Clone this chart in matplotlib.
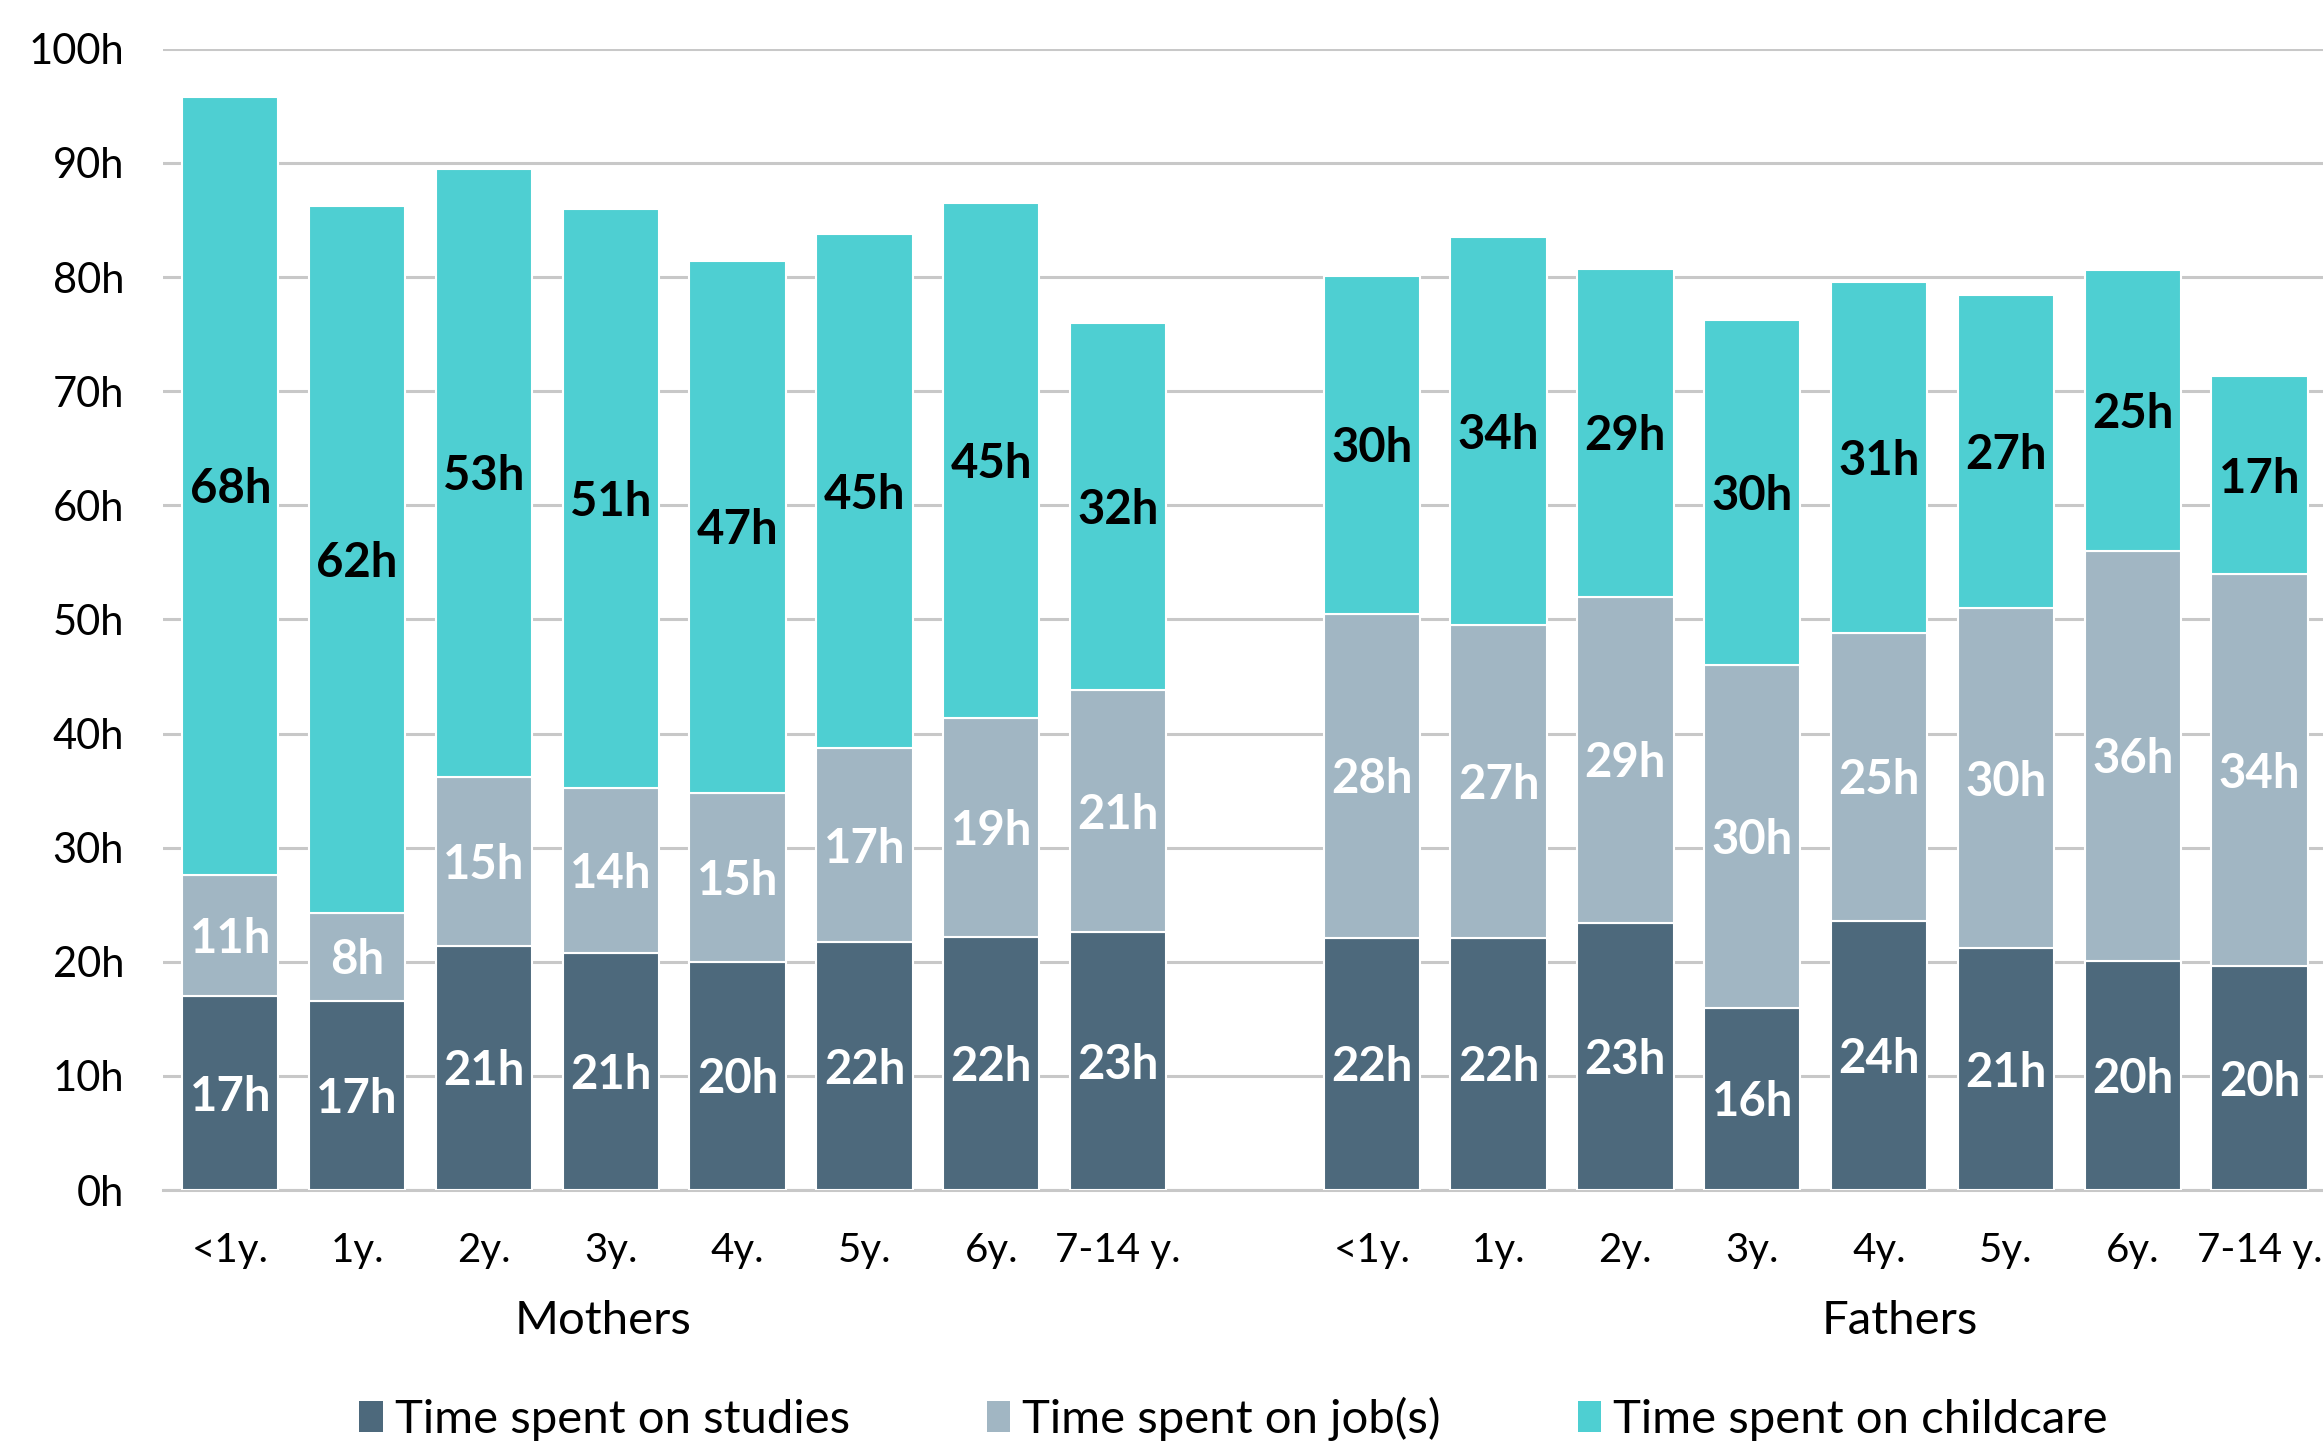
import matplotlib
matplotlib.use("Agg")
import matplotlib.pyplot as plt
from matplotlib.patches import Patch
import numpy as np

plt.rcParams['font.family'] = ['Lato', 'DejaVu Sans']

# Age of youngest child, per parent group
age_labels = ["<1y.", "1y.", "2y.", "3y.", "4y.", "5y.", "6y.", "7-14 y."]
groups = ["Mothers", "Fathers"]

# Weekly hours (mothers first, then fathers)
mothers_studies = [17.0, 16.6, 21.4, 20.8, 20.0, 21.7, 22.2, 22.6]
mothers_jobs = [10.6, 7.7, 14.8, 14.4, 14.8, 17.0, 19.2, 21.2]
mothers_childcare = [68.2, 61.9, 53.3, 50.8, 46.6, 45.1, 45.1, 32.2]

fathers_studies = [22.1, 22.1, 23.4, 16.0, 23.6, 21.2, 20.1, 19.6]
fathers_jobs = [28.4, 27.4, 28.6, 30.0, 25.2, 29.8, 35.9, 34.4]
fathers_childcare = [29.6, 34.0, 28.7, 30.2, 30.8, 27.4, 24.6, 17.3]

series_names = ["Time spent on studies", "Time spent on job(s)", "Time spent on childcare"]
series_colors = ["#4D697C", "#A1B6C3", "#4ECFD2"]
label_colors = ["white", "white", "black"]

fig = plt.figure(figsize=(23.23, 14.45), dpi=100)
ax = fig.add_axes([0.0702, 0.1764, 0.9298, 0.7898])

n = len(age_labels)
x_m = np.arange(n)
x_f = np.arange(n) + n + 1
x_all = np.concatenate([x_m, x_f])

data = [
    np.array(mothers_studies + fathers_studies),
    np.array(mothers_jobs + fathers_jobs),
    np.array(mothers_childcare + fathers_childcare),
]

bottom = np.zeros(len(x_all))
for vals, name, col, lcol in zip(data, series_names, series_colors, label_colors):
    ax.bar(x_all, vals, width=0.76, bottom=bottom, color=col,
           edgecolor="white", linewidth=1.5, label=name, zorder=3)
    for xi, b, v in zip(x_all, bottom, vals):
        ax.text(xi, b + v / 2 - 0.3, f"{round(v):d}h", ha="center", va="center",
                color=lcol, fontsize=34, fontweight="bold", zorder=4)
    bottom = bottom + vals

ax.set_ylim(0, 100)
ax.set_xlim(-0.53, 16.5)
ax.set_yticks(np.arange(0, 101, 10))
ax.set_yticklabels([f"{t}h" for t in range(0, 101, 10)], fontsize=30)
ax.yaxis.grid(True, color="#C8C8C8", linewidth=2.2, zorder=0)
ax.set_axisbelow(True)
for s in ["top", "right", "left"]:
    ax.spines[s].set_visible(False)
ax.spines["bottom"].set_color("#C8C8C8")
ax.spines["bottom"].set_linewidth(2.2)
ax.tick_params(axis="y", length=0, pad=28)

ax.set_xticks(x_all)
ax.set_xticklabels(age_labels + age_labels, fontsize=29)
ax.tick_params(axis="x", length=0, pad=30)

# Group labels under the age ticks
for gx, g in zip([2.94, 13.16], groups):
    ax.text(gx, -0.115, g, transform=ax.get_xaxis_transform(), ha="center",
            va="center", fontsize=34)

handles = [Patch(facecolor=c, edgecolor="none") for c in series_colors]
fig.legend(handles, series_names, loc="center", bbox_to_anchor=(0.531, 0.018),
           ncol=3, frameon=False, fontsize=34, handlelength=0.5, handleheight=0.62,
           handletextpad=0.25, columnspacing=2.9)

fig.savefig("out.png", dpi=100)
